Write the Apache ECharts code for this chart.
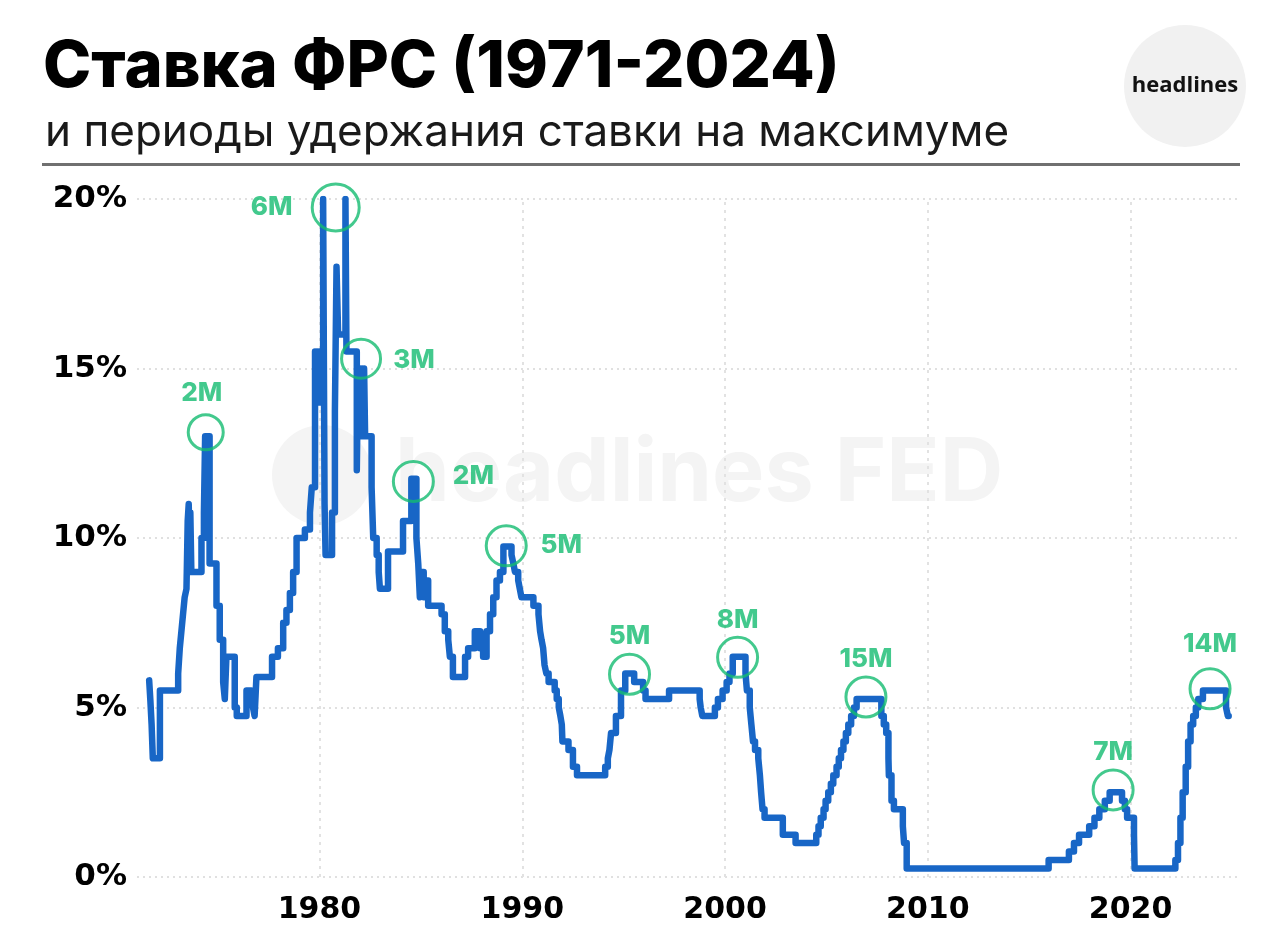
<!DOCTYPE html>
<html>
<head>
<meta charset="utf-8">
<script src="https://cdn.jsdelivr.net/npm/echarts@6/dist/echarts.min.js"></script>
<style>
html,body{margin:0;padding:0;background:#fff;}
#chart{width:1280px;height:951px;}
</style>
</head>
<body>
<div id="chart"></div>
<script>
// ---- Data ----
const titleText = 'Ставка ФРС (1971-2024)';
const subtitleText = 'и периоды удержания ставки на максимуме';
const logoText = 'headlines';
const watermarkText = 'headlines FED';

const xTickLabels = [1980, 1990, 2000, 2010, 2020];
const yTickLabels = [0, 5, 10, 15, 20];

const years = [
  1971.60, 1971.66, 1971.72, 1971.78, 1972.13, 1973.03, 1973.11, 1973.19, 1973.27, 1973.35,
  1973.44, 1973.50, 1973.55, 1973.59, 1973.63, 1973.68, 1974.18, 1974.30, 1974.36, 1974.58,
  1974.92, 1975.08, 1975.25, 1975.33, 1975.41, 1975.82, 1975.92, 1976.40, 1976.64, 1976.72,
  1976.80, 1976.89, 1977.66, 1977.95, 1978.21, 1978.37, 1978.54, 1978.70, 1978.87, 1979.28,
  1979.53, 1979.62, 1979.78, 1979.83, 1979.88, 1979.93, 1979.98, 1980.03, 1980.08, 1980.18,
  1980.25, 1980.30, 1980.62, 1980.76, 1980.84, 1980.92, 1981.28, 1981.33, 1981.84, 1981.90,
  1981.95, 1982.00, 1982.05, 1982.10, 1982.15, 1982.20, 1982.25, 1982.30, 1982.57, 1982.65,
  1982.82, 1982.92, 1982.98, 1983.38, 1984.12, 1984.53, 1984.78, 1984.87, 1984.95, 1985.04,
  1985.14, 1985.24, 1985.36, 1986.02, 1986.18, 1986.35, 1986.43, 1986.58, 1987.18, 1987.33,
  1987.66, 1987.92, 1988.07, 1988.24, 1988.41, 1988.57, 1988.73, 1988.90, 1989.07, 1989.47,
  1989.56, 1989.64, 1989.80, 1989.88, 1989.96, 1990.55, 1990.80, 1990.88, 1990.95, 1991.03,
  1991.10, 1991.19, 1991.30, 1991.60, 1991.70, 1991.80, 1991.88, 1991.95, 1991.98, 1992.28,
  1992.50, 1992.70, 1994.09, 1994.22, 1994.30, 1994.38, 1994.62, 1994.87, 1995.08, 1995.52,
  1995.96, 1996.08, 1997.24, 1998.75, 1998.80, 1998.88, 1999.50, 1999.65, 1999.88, 2000.08,
  2000.22, 2000.38, 2001.01, 2001.08, 2001.22, 2001.30, 2001.38, 2001.48, 2001.64, 2001.72,
  2001.78, 2001.85, 2001.95, 2002.85, 2003.48, 2004.50, 2004.61, 2004.72, 2004.86, 2004.96,
  2005.09, 2005.22, 2005.34, 2005.50, 2005.61, 2005.72, 2005.84, 2005.96, 2006.08, 2006.22,
  2006.36, 2006.49, 2007.71, 2007.83, 2007.95, 2008.06, 2008.08, 2008.21, 2008.33, 2008.77,
  2008.83, 2008.96, 2015.96, 2016.96, 2017.21, 2017.46, 2017.96, 2018.22, 2018.46, 2018.73,
  2018.97, 2019.58, 2019.72, 2019.83, 2020.17, 2020.20, 2022.21, 2022.34, 2022.46, 2022.57,
  2022.72, 2022.84, 2022.96, 2023.09, 2023.22, 2023.34, 2023.57, 2024.71, 2024.80, 2024.84
];
const rates = [
  5.80, 5.20, 4.50, 3.50, 5.50, 6.00, 6.75, 7.25, 7.75, 8.25,
  8.50, 10.50, 11.00, 10.00, 10.75, 9.00, 10.00, 10.75, 13.00, 9.25,
  8.00, 7.00, 5.75, 5.25, 6.50, 5.00, 4.75, 5.50, 5.25, 5.00,
  4.75, 5.90, 6.50, 6.75, 7.50, 7.875, 8.375, 9.00, 10.00, 10.25,
  10.75, 11.50, 15.50, 14.00, 15.50, 14.00, 15.50, 14.00, 15.50, 20.00,
  11.00, 9.50, 10.75, 13.75, 18.00, 16.00, 20.00, 15.50, 12.00, 15.00,
  13.00, 15.00, 13.00, 15.00, 13.00, 15.00, 13.00, 13.00, 11.50, 10.00,
  9.50, 9.00, 8.50, 9.60, 10.50, 11.75, 10.00, 9.25, 8.25, 9.00,
  8.25, 8.75, 8.00, 7.75, 7.25, 7.00, 6.50, 5.90, 6.50, 6.75,
  7.25, 6.75, 6.50, 7.25, 7.75, 8.25, 8.75, 9.00, 9.75, 9.50,
  9.25, 9.00, 8.75, 8.50, 8.25, 8.00, 7.75, 7.25, 7.00, 6.75,
  6.25, 6.00, 5.75, 5.50, 5.25, 5.00, 4.75, 4.50, 4.00, 3.75,
  3.25, 3.00, 3.25, 3.50, 3.75, 4.25, 4.75, 5.50, 6.00, 5.75,
  5.50, 5.25, 5.50, 5.25, 5.00, 4.75, 5.00, 5.25, 5.50, 5.75,
  6.00, 6.50, 6.00, 5.50, 5.00, 4.50, 4.00, 3.75, 3.50, 3.00,
  2.50, 2.00, 1.75, 1.25, 1.00, 1.25, 1.50, 1.75, 2.00, 2.25,
  2.50, 2.75, 3.00, 3.25, 3.50, 3.75, 4.00, 4.25, 4.50, 4.75,
  5.00, 5.25, 4.75, 4.50, 4.25, 3.50, 3.00, 2.25, 2.00, 1.50,
  1.00, 0.25, 0.50, 0.75, 1.00, 1.25, 1.50, 1.75, 2.00, 2.25,
  2.50, 2.25, 2.00, 1.75, 1.25, 0.25, 0.50, 1.00, 1.75, 2.50,
  3.25, 4.00, 4.50, 4.75, 5.00, 5.25, 5.50, 5.00, 4.75, 4.75
];

// Periods of holding the rate at the maximum (annotation circles)
const peakLabels = ['2M', '6M', '3M', '2M', '5M', '5M', '8M', '15M', '7M', '14M'];
const peakYears  = [1974.39, 1980.80, 1982.05, 1984.63, 1989.21, 1995.29, 2000.62, 2006.95, 2019.14, 2023.92];
const peakRates  = [13.12, 19.75, 15.29, 11.67, 9.77, 5.98, 6.48, 5.31, 2.57, 5.55];

// ---- Styling / layout (not data) ----
const BLUE = '#1866c6';
const GREEN = '#14bb70';
const peakStyle = [
  {size: 35, off: [-4, -39]},
  {size: 47, off: [-64, 0]},
  {size: 39, off: [53, 2]},
  {size: 40, off: [60, -5]},
  {size: 40, off: [55, -1]},
  {size: 40, off: [0, -38]},
  {size: 40, off: [0, -37]},
  {size: 40, off: [0, -38]},
  {size: 40, off: [0, -38]},
  {size: 40, off: [0, -45]}
];

const lineData = years.map((y, i) => [y, rates[i]]);
const peakData = peakYears.map((y, i) => ({
  value: [y, peakRates[i]],
  symbolSize: peakStyle[i].size,
  label: {
    show: true,
    formatter: peakLabels[i],
    position: 'inside',
    offset: peakStyle[i].off
  }
}));

const AXIS_FONT = '"DejaVu Sans"';

const chart = echarts.init(document.getElementById('chart'), null, {renderer: 'canvas'});
chart.setOption({
  animation: false,
  backgroundColor: '#ffffff',
  title: [
    {
      text: titleText, left: 38, top: 30,
      textStyle: {fontFamily: 'Inter', fontWeight: 800, fontSize: 65, color: '#000'}
    },
    {
      text: subtitleText, left: 40, top: 106,
      textStyle: {fontFamily: 'Inter', fontWeight: 'normal', fontSize: 44, color: '#1a1a1a'}
    }
  ],
  graphic: [
    {type: 'circle', z: -10, shape: {cx: 322, cy: 475, r: 50}, style: {fill: '#f4f4f4'}},
    {type: 'text', z: -10, style: {text: watermarkText, x: 395, y: 475, verticalAlign: 'middle',
      font: 'bold 88px Inter', fill: '#f4f4f4'}},
    {type: 'circle', shape: {cx: 1185, cy: 86, r: 61}, style: {fill: '#f1f1f1'}},
    {type: 'text', style: {text: logoText, x: 1185, y: 86, align: 'center', verticalAlign: 'middle',
      font: 'bold 22px "Open Sans"', fill: '#111'}},
    {type: 'rect', shape: {x: 42, y: 163, width: 1198, height: 3}, style: {fill: '#707070'}}
  ],
  grid: {left: 137, right: 43, top: 199, bottom: 74, containLabel: false},
  xAxis: {
    type: 'value', min: 1971, max: 2025.25, interval: 1,
    axisLine: {show: false}, axisTick: {show: false}, splitLine: {show: false},
    axisLabel: {
      margin: 18,
      fontFamily: AXIS_FONT, fontWeight: 'bold', fontSize: 30, color: '#000',
      formatter: v => (xTickLabels.indexOf(v) >= 0 ? String(v) : '')
    }
  },
  yAxis: {
    type: 'value', min: 0, max: 20, interval: 5,
    axisLine: {show: false}, axisTick: {show: false},
    splitLine: {show: true, lineStyle: {type: [2, 4], color: '#d6d6d6', width: 1.5}},
    axisLabel: {
      margin: 10,
      fontFamily: AXIS_FONT, fontWeight: 'bold', fontSize: 31, color: '#000',
      formatter: v => (yTickLabels.indexOf(v) >= 0 ? v + '%' : '')
    }
  },
  series: [
    {
      type: 'line', name: 'grid', data: [], z: 1, silent: true,
      markLine: {
        silent: true, z: 1, symbol: ['none', 'none'], label: {show: false},
        lineStyle: {type: [3, 5], color: '#e2e2e2', width: 2},
        data: xTickLabels.map(x => ({xAxis: x}))
      }
    },
    {
      type: 'line', name: 'rate', step: 'end', data: lineData,
      showSymbol: false, symbol: 'none',
      lineStyle: {color: BLUE, width: 6.5, join: 'round', cap: 'round'},
      z: 3
    },
    {
      type: 'scatter', name: 'peaks', data: peakData, symbol: 'circle', z: 4,
      itemStyle: {color: 'rgba(0,0,0,0)', borderColor: GREEN, borderWidth: 3},
      label: {fontFamily: 'Inter', fontWeight: 800, fontSize: 26, color: GREEN}
    }
  ]
});
</script>
</body>
</html>
